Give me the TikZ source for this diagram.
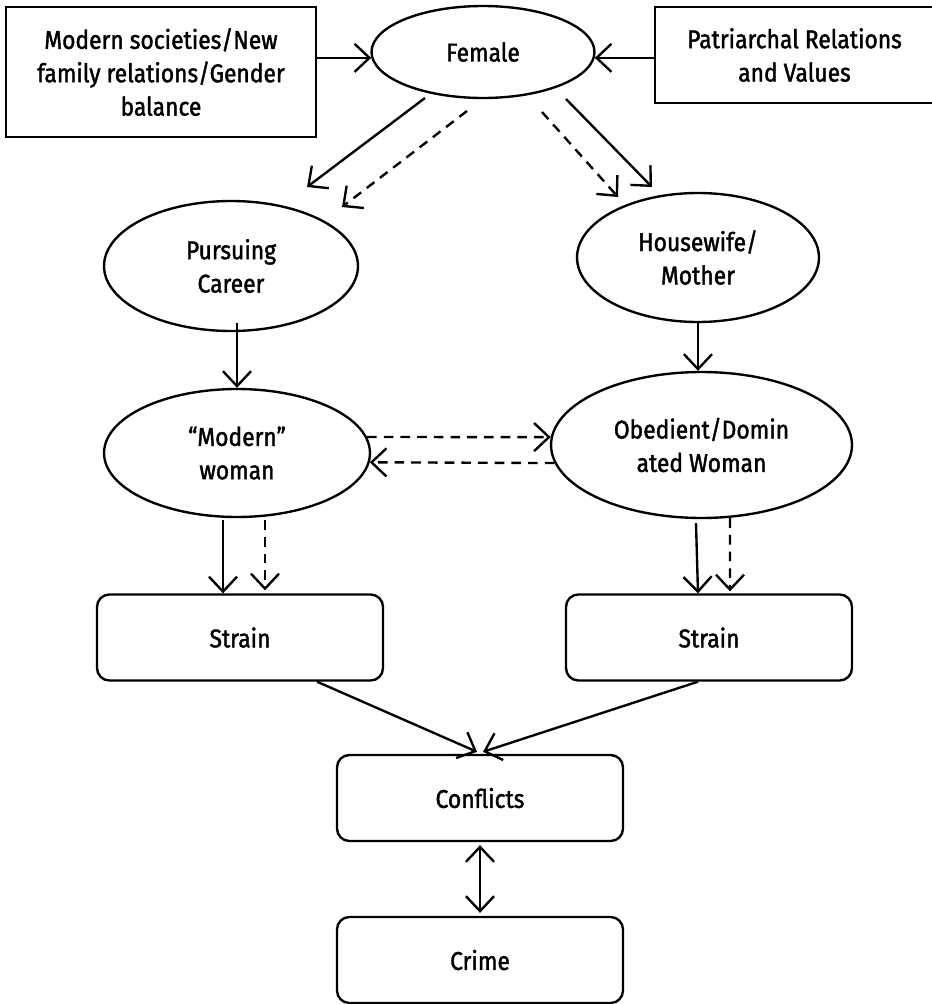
\documentclass[tikz,border=0pt]{standalone}
\usepackage{fontspec}
\setmainfont{Fira Sans}[FakeBold=1.6, FakeStretch=0.89]
\usetikzlibrary{shapes.geometric,arrows.meta,calc}

\begin{document}
\begin{tikzpicture}[x=0.02cm, y=-0.02cm, line width=1.35pt, every node/.style={font=\fontsize{14.6}{19}\selectfont}]
    \tikzstyle{oval}=[draw, ellipse, inner sep=0pt, align=center]
    \tikzstyle{sqbox}=[draw, rectangle, inner sep=0pt, align=center]
    \tikzstyle{rbox}=[draw, rectangle, rounded corners=7pt, inner sep=0pt, align=center, minimum width=5.72cm, minimum height=1.72cm]
    \tikzstyle{link}=[-{Straight Barb[length=8.5pt,width=16pt]}]
    \tikzstyle{dlink}=[link, dash pattern=on 5.5pt off 4pt]
    \useasboundingbox (0,0) rectangle (932,1004);
    % top row
    \node[sqbox, minimum width=6.2cm, minimum height=2.6cm] (society) at (161,72) {Modern societies/New\\family relations/Gender\\balance};
    \node[oval, minimum width=4.46cm, minimum height=1.84cm] (female) at (483,52) {Female};
    \node[sqbox, minimum width=5.58cm, minimum height=1.92cm] (patriarchy) at (794.5,55) {Patriarchal Relations\\and Values};
    % roles
    \node[oval, minimum width=5.08cm, minimum height=2.6cm] (career) at (231,266) {Pursuing\\Career};
    \node[oval, minimum width=4.84cm, minimum height=2.58cm] (housewife) at (698,257.5) {Housewife/\\Mother};
    \node[oval, minimum width=5.32cm, minimum height=2.56cm] (modern) at (237,453) {“Modern”\\woman};
    \node[oval, minimum width=6.02cm, minimum height=2.92cm] (obedient) at (701.5,445) {Obedient/Domin\\ated Woman};
    % outcomes
    \node[rbox] (strainL) at (240,637.5) {Strain};
    \node[rbox] (strainR) at (709,637.5) {Strain};
    \node[rbox] (conflicts) at (480,798) {Conflicts};
    \node[rbox] (crime) at (480,960) {Crime};

    \draw[link] (society.east |- female.183) -- (female.183);
    \draw[link] (patriarchy.west |- female.357) -- (female.357);
    \draw[link] ($(female)+(-58,46)$) -- ($(career)+(76,-79)$);
    \draw[dlink] ($(female)+(-16,59)$) -- ($(career)+(111,-59)$);
    \draw[dlink] ($(female)+(59,60)$) -- ($(housewife)+(-80,-60.5)$);
    \draw[link] ($(female)+(83,47)$) -- ($(housewife)+(-46,-70.5)$);
    \draw[link] ($(career.south -| modern.north)+(0,-9)$) -- (modern.north);
    \draw[link] (housewife.south) -- (housewife.south |- obedient.north);
    \draw[dlink] (modern.7) -- (obedient.177);
    \draw[dlink] (obedient.187) -- (modern.356);
    \draw[link] ($(modern.south)+(-14,2)$) -- ($(strainL.north)+(-17,0)$);
    \draw[dlink] ($(modern.south)+(28,2)$) -- ($(strainL.north)+(25,-3)$);
    \draw[link] ($(obedient.south)+(-5.5,4)$) -- ($(strainR.north)+(-11,0)$);
    \draw[dlink] ($(obedient.south)+(28.5,-1)$) -- ($(strainR.north)+(21,-2)$);
    \draw[link] ($(strainL.south)+(77,0)$) -- ($(conflicts.north)+(-3,-2)$);
    \draw[link] ($(strainR.south)+(-11,0)$) -- ($(conflicts.north)+(3,-2)$);
    \draw[{Straight Barb[length=8.5pt,width=16pt]}-{Straight Barb[length=8.5pt,width=16pt]}] ($(conflicts.south)+(0,3)$) -- ($(crime.north)+(0,-3)$);
\end{tikzpicture}
\end{document}
